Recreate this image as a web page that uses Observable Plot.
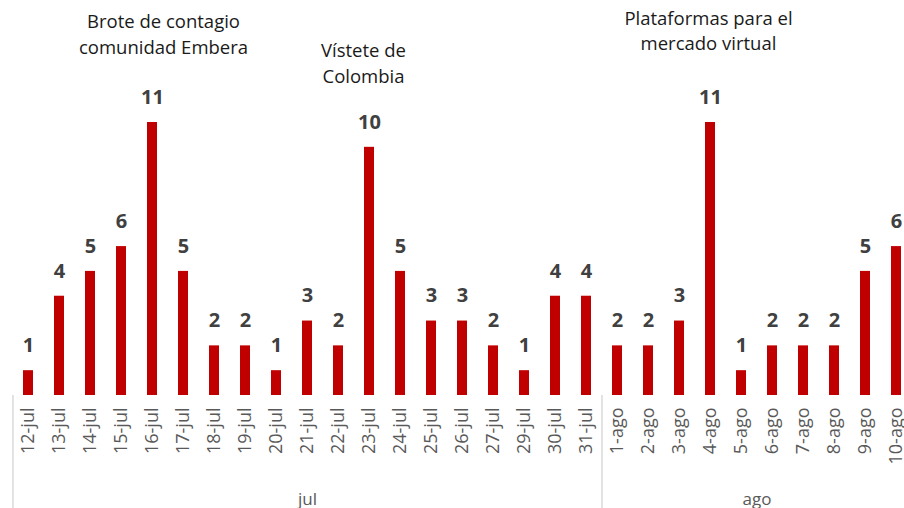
<!DOCTYPE html>
<html>
<head>
<meta charset="utf-8">
<script src="https://cdn.jsdelivr.net/npm/d3@7"></script>
<script src="https://cdn.jsdelivr.net/npm/@observablehq/plot@0.6"></script>
<style>
  html, body { margin: 0; padding: 0; background: #fff; }
  #chart svg { display: block; }
</style>
</head>
<body>
<div id="chart"></div>
<script>
const dates = ["12-jul","13-jul","14-jul","15-jul","16-jul","17-jul","18-jul","19-jul","20-jul","21-jul","22-jul","23-jul","24-jul","25-jul","26-jul","27-jul","29-jul","30-jul","31-jul","1-ago","2-ago","3-ago","4-ago","5-ago","6-ago","7-ago","8-ago","9-ago","10-ago"];
const counts = [1,4,5,6,11,5,2,2,1,3,2,10,5,3,3,2,1,4,4,2,2,3,11,1,2,2,2,5,6];
const months = ["jul","ago"];
const monthStart = ["12-jul","1-ago"];
const monthCenter = ["21-jul","5-ago"];
const notes = ["Brote de contagio\ncomunidad Embera","Vístete de\nColombia","Plataformas para el\nmercado virtual"];
const noteDates = ["16-jul","23-jul","4-ago"];

const data = dates.map((d, i) => ({date: d, value: counts[i]}));
const font = "'Open Sans', 'Noto Sans', sans-serif";
const step = (912 - 11) / dates.length;

const chart = Plot.plot({
  width: 904,
  height: 508,
  marginTop: 122,
  marginBottom: 113,
  marginLeft: 11,
  marginRight: 0,
  style: {fontFamily: font, background: "#fff", overflow: "hidden"},
  x: {domain: dates, range: [11, 912], paddingInner: 0.68, paddingOuter: 0.34, axis: null},
  y: {domain: [0, 11], axis: null},
  marks: [
    Plot.barY(data, {x: "date", y: "value", fill: "#c00000"}),
    Plot.ruleY([0], {x1: dates[0], x2: dates[dates.length - 1], stroke: "#d9d9d9", strokeWidth: 1.5, insetLeft: -16, insetRight: -16}),
    Plot.ruleX(monthStart, {x: d => d, y1: 0, y2: -6, dx: -step / 2, stroke: "#d9d9d9", strokeWidth: 1.5}),
    Plot.axisX({tickRotate: -90, tickSize: 0, tickPadding: 12, fontSize: 18, fill: "#595959", fontFamily: font}),
    Plot.text(data, {x: "date", y: "value", text: d => String(d.value), dy: -25, fontSize: 20, fontWeight: "bold", fill: "#404040"}),
    Plot.text([months[0]], {x: () => monthCenter[0], text: d => d, frameAnchor: "bottom", dy: 109, fontSize: 17, fill: "#595959"}),
    Plot.text([months[1]], {x: () => monthCenter[1], text: d => d, frameAnchor: "bottom", dy: 109, dx: step / 2, fontSize: 17, fill: "#595959"}),
    Plot.text([notes[0]], {x: () => noteDates[0], frameAnchor: "top", lineAnchor: "top", dy: -113, dx: 11, fontSize: 18.5, fill: "#1a1a1a", lineHeight: 1.42}),
    Plot.text([notes[1]], {x: () => noteDates[1], frameAnchor: "top", lineAnchor: "top", dy: -84, dx: -6, fontSize: 18.5, fill: "#1a1a1a", lineHeight: 1.42}),
    Plot.text([notes[2]], {x: () => noteDates[2], frameAnchor: "top", lineAnchor: "top", dy: -116, dx: -2, fontSize: 18.5, fill: "#1a1a1a", lineHeight: 1.38})
  ]
});
document.getElementById("chart").appendChild(chart);
</script>
</body>
</html>
